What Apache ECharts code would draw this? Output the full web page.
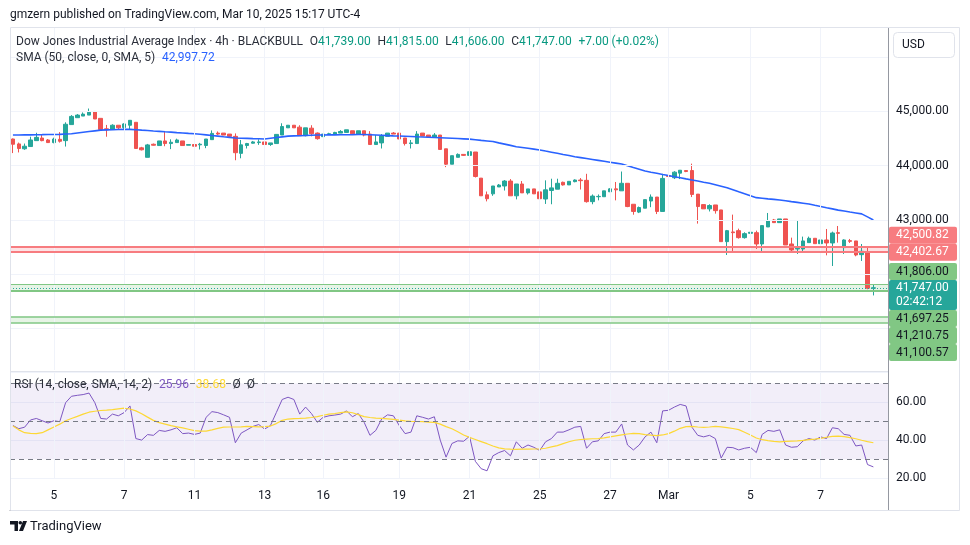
<!DOCTYPE html>
<html><head><meta charset="utf-8">
<script src="https://cdn.jsdelivr.net/npm/echarts/dist/echarts.min.js"></script>
<style>html,body{margin:0;padding:0;background:#fff;}#c{width:970px;height:545px;}</style>
</head><body><div id="c"></div>
<script>
const FONT = "Roboto, 'Noto Sans', 'Liberation Sans', sans-serif";

// ---- data ----
const SLOTS = 150; // 148 bars + 2 empty slots on the right
const categories = Array.from({length: SLOTS}, (_, i) => 'bar' + i);
const tickIdx  = [7, 19, 31, 43, 53, 66, 78, 90, 102, 112, 126, 138];
const tickText = ['5', '7', '11', '13', '16', '19', '21', '25', '27', 'Mar', '5', '7'];

// [open, close, low, high]
const ohlc = [
[44492,44395,44232,44500],[44401,44317,44244,44426],[44311,44359,44293,44408],[44353,44474,44353,44534],[44462,44522,44462,44607],
[44510,44462,44450,44577],[44474,44426,44420,44492],[44426,44492,44413,44516],[44486,44450,44426,44619],[44462,44764,44353,44800],
[44758,44909,44758,44933],[44885,44933,44885,44951],[44915,44951,44915,44982],[44933,44988,44933,45054],[45000,44861,44861,45000],
[44873,44667,44667,44873],[44680,44661,44534,44752],[44667,44746,44667,44764],[44746,44698,44667,44746],[44704,44770,44680,44782],
[44746,44837,44667,44837],[44800,44317,44317,44800],[44329,44293,44281,44347],[44154,44383,44154,44401],[44395,44377,44371,44408],
[44371,44456,44371,44456],[44456,44408,44359,44625],[44408,44432,44305,44486],[44426,44474,44426,44498],[44456,44371,44371,44456],
[44377,44389,44377,44395],[44390,44359,44347,44408],[44384,44396,44299,44420],[44372,44492,44323,44492],[44480,44595,44480,44650],
[44601,44583,44565,44631],[44601,44565,44565,44601],[44583,44541,44516,44583],[44541,44239,44100,44595],[44227,44384,44136,44474],
[44372,44408,44317,44420],[44414,44438,44408,44456],[44426,44438,44384,44486],[44438,44390,44281,44438],[44390,44420,44365,44420],
[44408,44577,44408,44577],[44565,44722,44565,44782],[44698,44746,44698,44746],[44746,44698,44698,44746],[44710,44553,44553,44746],
[44553,44698,44541,44698],[44692,44589,44541,44746],[44601,44498,44480,44613],[44535,44583,44535,44583],[44577,44589,44577,44607],
[44583,44613,44583,44625],[44601,44631,44601,44656],[44613,44662,44613,44662],[44644,44589,44589,44644],[44583,44644,44583,44644],
[44644,44565,44541,44644],[44583,44390,44390,44637],[44390,44438,44390,44565],[44420,44547,44317,44583],[44541,44601,44541,44601],
[44601,44583,44583,44619],[44601,44492,44492,44601],[44511,44408,44372,44511],[44408,44420,44317,44474],[44408,44583,44408,44637],
[44601,44547,44547,44601],[44565,44529,44529,44565],[44529,44565,44529,44601],[44565,44299,44299,44565],[44311,44027,43973,44311],
[44027,44184,44027,44184],[44154,44208,44154,44226],[44208,44190,44178,44208],[44190,44257,44190,44257],[44252,43800,43782,44252],
[43770,43444,43444,43770],[43462,43390,43341,43523],[43480,43625,43444,43625],[43607,43643,43607,43662],[43625,43716,43541,43734],
[43716,43444,43444,43752],[43444,43662,43378,43662],[43662,43498,43498,43716],[43498,43571,43468,43571],[43571,43480,43480,43571],
[43516,43390,43390,43516],[43385,43554,43294,43729],[43542,43590,43288,43759],[43566,43675,43566,43759],[43693,43645,43632,43705],
[43645,43711,43645,43711],[43705,43735,43693,43747],[43735,43723,43560,43771],[43729,43336,43318,43850],[43336,43439,43288,43469],
[43427,43433,43360,43469],[43427,43536,43427,43536],[43518,43572,43518,43584],[43572,43554,43360,43699],[43536,43675,43536,43892],
[43675,43246,43234,43675],[43288,43155,43095,43288],[43143,43228,43125,43246],[43215,43373,43215,43373],[43348,43421,43234,43469],
[43421,43155,43107,43421],[43155,43765,43155,43850],[43814,43802,43741,43868],[43777,43880,43753,43898],[43862,43916,43753,43916],
[43910,43892,43880,43910],[43910,43469,43421,44037],[43475,43246,42931,43475],[43282,43203,43203,43282],[43203,43264,43155,43288],
[43275,43170,43115,43275],[43183,42598,42598,43183],[42598,42801,42352,42814],[42777,42764,42426,43097],[42801,42672,42654,42838],
[42672,42746,42654,42771],[42752,42771,42703,42863],[42764,42555,42463,42801],[42555,42894,42414,42894],[42869,42980,42869,43127],
[42998,42949,42949,43017],[42949,43017,42949,43017],[43017,42537,42537,43017],[42555,42445,42414,42672],[42463,42475,42371,42980],
[42463,42611,42395,42691],[42580,42660,42580,42691],[42660,42561,42561,42660],[42561,42629,42561,42629],[42629,42574,42346,42832],
[42574,42758,42149,42783],[42764,42752,42580,42887],[42488,42629,42371,42641],[42617,42604,42574,42648],[42611,42352,42328,42611],
[42358,42420,42242,42555],[42408,41739,41720,42500],[41739,41747,41606,41815]
];

const sma50 = [
44565,44567,44568,44569,44571,44572,44574,44576,44578,44584,
44590,44603,44616,44629,44642,44655,44660,44664,44667,44669,
44670,44663,44655,44648,44640,44633,44625,44618,44610,44603,
44595,44588,44580,44568,44556,44545,44533,44522,44510,44506,
44503,44499,44496,44493,44506,44519,44532,44545,44549,44553,
44557,44561,44565,44566,44568,44569,44570,44571,44572,44574,
44575,44570,44565,44560,44555,44550,44546,44542,44538,44533,
44529,44525,44520,44515,44510,44505,44500,44495,44490,44479,
44467,44456,44445,44421,44398,44374,44350,44335,44320,44305,
44290,44269,44249,44228,44207,44187,44166,44149,44132,44115,
44098,44081,44064,44047,44030,43998,43965,43933,43900,43879,
43859,43838,43818,43797,43777,43756,43736,43716,43695,43675,
43648,43621,43594,43557,43520,43484,43447,43410,43399,43388,
43378,43367,43352,43337,43323,43308,43293,43270,43248,43225,
43203,43180,43163,43145,43128,43110,43055,42997.72
];

const rsi = [
47.8,46.1,46.9,50.7,51.5,50.3,49.1,50.3,49.8,59.8,
63.2,63.7,64.1,64.9,59.8,51.5,51.2,53.8,52.9,54.6,
58.1,40.9,40.1,43.0,42.6,45.2,44.7,45.5,46.6,43.5,
43.8,43.1,43.8,52.1,55.1,54.6,53.4,52.1,38.7,43.8,
45.5,47.3,48.3,45.9,47.8,54.6,61.5,62.7,61.5,53.8,
57.5,54.1,49.5,52.1,52.9,53.3,53.8,55.5,52.4,54.1,
49.5,42.6,45.2,51.2,53.4,52.9,47.8,43.5,44.3,52.9,
52.1,51.2,52.4,40.1,31.1,38.3,39.7,39.5,42.1,28.9,
25.0,23.9,31.8,33.5,34.6,31.8,39.2,35.8,37.5,36.3,
34.6,39.2,40.9,44.3,44.3,45.5,46.9,47.3,35.8,39.2,
39.7,43.5,44.3,44.3,48.6,37.5,34.9,37.5,41.8,44.3,
38.7,55.5,55.8,57.5,58.9,58.1,46.9,42.6,41.8,42.6,
40.9,30.6,36.3,36.1,34.9,35.8,36.3,33.5,43.1,45.2,
44.7,45.5,37.5,36.3,36.6,39.7,40.9,40.1,41.8,40.9,
46.6,46.1,43.1,42.6,37.0,37.5,27.2,25.96
];

const rsiSma = [
47.5,45.5,44.0,43.6,43.5,44.0,45.5,47.0,48.5,50.3,
51.5,52.6,53.8,54.8,55.3,55.7,55.9,56.2,56.6,56.9,
56.5,55.5,54.0,52.2,50.5,49.3,48.5,47.7,47.1,46.5,
45.8,45.1,44.8,44.8,45.5,46.3,46.9,47.0,47.0,47.1,
47.3,47.2,47.1,47.2,47.5,48.8,50.5,51.2,51.4,51.5,
51.7,52.0,52.5,53.2,53.8,54.1,54.6,55.0,54.5,53.5,
52.5,52.0,51.7,51.5,51.3,51.0,50.6,50.2,50.0,49.9,
49.8,49.6,49.4,48.5,47.2,46.1,44.5,42.8,41.5,40.4,
39.3,38.2,37.0,36.0,35.5,35.3,35.2,35.3,35.3,35.4,
35.4,35.8,36.5,37.2,38.2,39.2,40.0,40.4,40.6,40.8,
40.9,41.3,41.8,42.3,42.8,43.3,43.6,43.5,43.0,42.7,
42.5,42.8,43.5,44.8,46.3,47.2,47.3,47.0,46.8,47.0,
47.3,47.1,46.7,46.2,45.6,44.2,42.8,41.2,40.3,39.8,
39.4,39.2,39.4,39.6,39.7,39.9,40.3,40.6,41.0,41.6,
42.1,42.2,41.9,41.4,40.8,40.0,39.3,38.68
];

const priceGridLevels = [46000, 45000, 44000, 43000, 42000, 41000];
const priceLabelLevels = [45000, 44000, 43000];
const redLevels = [42500.82, 42402.67];
const greenLevelsUpper = [41806.00, 41697.25];
const greenLevelsLower = [41210.75, 41100.57];
const lastPrice = 41747.00;
const rsiDashed = [70, 50, 30];

// ---- colors ----
const UP = '#26a69a', DOWN = '#ef5350';
const GRID = '#f0f3fa';
const TXT = '#131722';
const fmt = v => v.toLocaleString('en-US', {minimumFractionDigits: 2, maximumFractionDigits: 2});

const chart = echarts.init(document.getElementById('c'), null, {renderer: 'canvas', width: 970, height: 545});

const G = {left: 10, right: 82};
const hideCat = (g) => ({type: 'category', gridIndex: g, data: categories, boundaryGap: true,
  axisLine: {show: false}, axisTick: {show: false}, axisLabel: {show: false}, splitLine: {show: false}});

const vGrid = tickIdx.map(i => ({xAxis: i}));

const option = {
  animation: false,
  backgroundColor: '#ffffff',
  grid: [
    {left: G.left, right: G.right, top: 28, height: 342},
    {left: G.left, right: G.right, top: 372, height: 106.2},
    {left: G.left, right: G.right, top: 482, height: 28}
  ],
  xAxis: [
    hideCat(0), hideCat(1),
    {type: 'category', gridIndex: 2, data: categories, boundaryGap: true, position: 'top',
     axisLine: {show: true, lineStyle: {color: '#9598a1', width: 1}}, axisTick: {show: false},
     splitLine: {show: false},
     axisLabel: {show: true, inside: true, margin: 8, color: TXT, fontSize: 12, fontFamily: FONT,
       interval: (i) => tickIdx.indexOf(i) >= 0,
       formatter: (v, i) => { const k = tickIdx.indexOf(i); return k >= 0 ? tickText[k] : ''; }}}
  ],
  yAxis: [
    {type: 'value', gridIndex: 0, min: 40230, max: 46540, show: false},
    {type: 'value', gridIndex: 1, min: 20, max: 76, interval: 20, position: 'right',
     axisLine: {show: false}, axisTick: {show: false},
     axisLabel: {showMaxLabel: false, align: 'left', margin: 8, color: TXT, fontSize: 12, fontFamily: FONT,
       formatter: v => v.toFixed(2)},
     splitLine: {show: true, lineStyle: {color: GRID, width: 1}}},
    {type: 'value', gridIndex: 2, show: false, min: 0, max: 1}
  ],
  series: [
    { // price pane gridlines + axis labels
      type: 'line', xAxisIndex: 0, yAxisIndex: 0, data: [], z: 1, silent: true,
      markLine: {
        silent: true, symbol: ['none', 'none'], animation: false,
        lineStyle: {color: GRID, width: 1, type: 'solid'},
        label: {show: false},
        data: vGrid.concat(priceGridLevels.map(p => ({
          yAxis: p,
          label: {show: priceLabelLevels.indexOf(p) >= 0, position: 'end', distance: 8,
                  formatter: fmt(p), color: TXT, fontSize: 12, fontFamily: FONT}
        })))
      }
    },
    { // levels
      type: 'line', xAxisIndex: 0, yAxisIndex: 0, data: [], z: 2, silent: true,
      markArea: {
        silent: true,
        data: [
          [{yAxis: redLevels[1], itemStyle: {color: 'rgba(242,54,69,0.14)'}}, {yAxis: redLevels[0]}],
          [{yAxis: greenLevelsUpper[1], itemStyle: {color: 'rgba(76,175,80,0.14)'}}, {yAxis: greenLevelsUpper[0]}],
          [{yAxis: greenLevelsLower[1], itemStyle: {color: 'rgba(76,175,80,0.14)'}}, {yAxis: greenLevelsLower[0]}]
        ]
      },
      markLine: {
        silent: true, symbol: ['none', 'none'], animation: false, label: {show: false},
        data: [
          {yAxis: redLevels[0], lineStyle: {color: '#f77c80', width: 2, type: 'solid'}},
          {yAxis: redLevels[1], lineStyle: {color: '#f77c80', width: 2, type: 'solid'}},
          {yAxis: greenLevelsUpper[0], lineStyle: {color: '#81c784', width: 1, type: 'solid'}},
          {yAxis: greenLevelsUpper[1], lineStyle: {color: '#81c784', width: 2, type: 'solid'}},
          {yAxis: greenLevelsLower[0], lineStyle: {color: '#81c784', width: 1.5, type: 'solid'}},
          {yAxis: greenLevelsLower[1], lineStyle: {color: '#81c784', width: 1.5, type: 'solid'}},
          {yAxis: lastPrice, lineStyle: {color: UP, width: 1, type: [1, 2]}}
        ]
      }
    },
    {
      name: 'DJI', type: 'candlestick', xAxisIndex: 0, yAxisIndex: 0, z: 3,
      data: ohlc, barWidth: 4,
      itemStyle: {color: UP, color0: DOWN, borderColor: UP, borderColor0: DOWN, borderWidth: 1}
    },
    {
      name: 'SMA', type: 'line', xAxisIndex: 0, yAxisIndex: 0, z: 4, data: sma50,
      showSymbol: false, symbol: 'none', smooth: false,
      lineStyle: {color: '#2962ff', width: 1.6}
    },
    { // RSI pane gridlines + band
      type: 'line', xAxisIndex: 1, yAxisIndex: 1, data: [], z: 1, silent: true,
      markArea: {silent: true, data: [[{yAxis: 30, itemStyle: {color: 'rgba(126,87,194,0.1)'}}, {yAxis: 70}]]},
      markLine: {
        silent: true, symbol: ['none', 'none'], animation: false, label: {show: false},
        data: vGrid.map(d => Object.assign({lineStyle: {color: GRID, width: 1, type: 'solid'}}, d))
          .concat(rsiDashed.map(v => ({yAxis: v, lineStyle: {color: '#787b86', width: 1, type: [5, 4]}})))
      }
    },
    {
      name: 'RSI', type: 'line', xAxisIndex: 1, yAxisIndex: 1, z: 3, data: rsi,
      showSymbol: false, symbol: 'none', lineStyle: {color: '#7e57c2', width: 1}
    },
    {
      name: 'RSI SMA', type: 'line', xAxisIndex: 1, yAxisIndex: 1, z: 3, data: rsiSma,
      showSymbol: false, symbol: 'none', lineStyle: {color: '#fdd835', width: 1.2}
    }
  ]
};
chart.setOption(option);

// ---- static graphics ----
const gfx = [];
gfx.push({type: 'rect', id: 'frame', z: 100, silent: true,
  shape: {x: 10.5, y: 27.5, width: 949, height: 483},
  style: {fill: 'none', stroke: '#e0e3eb', lineWidth: 1}});
gfx.push({type: 'line', id: 'vsep', z: 100, silent: true,
  shape: {x1: 888.5, y1: 28, x2: 888.5, y2: 510}, style: {stroke: '#9598a1', lineWidth: 1}});
gfx.push({type: 'line', id: 'psep', z: 100, silent: true,
  shape: {x1: 10, y1: 371.5, x2: 888, y2: 371.5}, style: {stroke: '#e0e3eb', lineWidth: 1}});
gfx.push({type: 'rect', id: 'usdbox', z: 100, silent: true,
  shape: {x: 893.5, y: 32.5, width: 61, height: 25, r: 4},
  style: {fill: '#fff', stroke: '#e0e3eb', lineWidth: 1}});
gfx.push({type: 'text', id: 'usd', z: 101, silent: true, x: 902, y: 45,
  style: {text: 'USD', fill: TXT, font: '12px ' + FONT, verticalAlign: 'middle'}});
gfx.push({type: 'text', id: 'pub', z: 101, silent: true, x: 10, y: 15,
  style: {text: 'gmzern published on TradingView.com, Mar 10, 2025 15:17 UTC-4', fill: TXT,
          font: '12px ' + FONT, verticalAlign: 'middle'}});
gfx.push({type: 'text', id: 'hdr1', z: 101, silent: true, x: 16, y: 42,
  style: {
    text: '{t|Dow Jones Industrial Average Index · 4h · BLACKBULL}  {t|O}{v|41,739.00}  {t|H}{v|41,815.00}  {t|L}{v|41,606.00}  {t|C}{v|41,747.00}  {v|+7.00 (+0.02%)}',
    verticalAlign: 'middle',
    rich: {t: {fill: '#2a2e39', fontSize: 12, fontFamily: FONT}, v: {fill: '#089981', fontSize: 12, fontFamily: FONT}}
  }});
gfx.push({type: 'text', id: 'hdr2', z: 101, silent: true, x: 16, y: 58,
  style: {
    text: '{t|SMA (50, close, 0, SMA, 5)}  {b|42,997.72}',
    verticalAlign: 'middle',
    rich: {t: {fill: '#2a2e39', fontSize: 12, fontFamily: FONT}, b: {fill: '#2962ff', fontSize: 12, fontFamily: FONT}}
  }});
gfx.push({type: 'text', id: 'rsihdr', z: 101, silent: true, x: 14, y: 385,
  style: {
    text: '{t|RSI (14, close, SMA, 14, 2)}  {p|25.96}  {y|38.68}  {t|Ø  Ø}',
    verticalAlign: 'middle',
    rich: {t: {fill: '#2a2e39', fontSize: 12, fontFamily: FONT}, p: {fill: '#7e57c2', fontSize: 12, fontFamily: FONT},
           y: {fill: '#fdd835', fontSize: 12, fontFamily: FONT}}
  }});
// TradingView logo
gfx.push({type: 'group', id: 'logo', z: 101, silent: true, children: [
  {type: 'rect', shape: {x: 10, y: 521, width: 8, height: 3.5}, style: {fill: TXT}},
  {type: 'rect', shape: {x: 14.5, y: 521, width: 3.5, height: 10}, style: {fill: TXT}},
  {type: 'circle', shape: {cx: 20.3, cy: 522.8, r: 1.8}, style: {fill: TXT}},
  {type: 'polygon', shape: {points: [[19, 531], [23, 521], [27, 521], [23, 531]]}, style: {fill: TXT}},
  {type: 'text', x: 30, y: 527, style: {text: 'TradingView', fill: TXT, font: '13px ' + FONT, verticalAlign: 'middle'}}
]});

// ---- price tags on the right axis, stacked to avoid overlap ----
const yOf = p => chart.convertToPixel({yAxisIndex: 0}, p);
const TAG_H = 17, TAG_X = 889, TAG_W = 68;
const yc = yOf(lastPrice);
const curTop = Math.round(yc) - 8, curBot = curTop + 30;
function tagRect(id, top, h, bg) {
  return {type: 'rect', id: id, z: 110, silent: true, shape: {x: TAG_X, y: top, width: TAG_W, height: h, r: 2}, style: {fill: bg}};
}
function tagText(id, cy, txt, color) {
  return {type: 'text', id: id, z: 111, silent: true, x: 896, y: cy,
    style: {text: txt, fill: color, font: '12px ' + FONT, verticalAlign: 'middle'}};
}
gfx.push(tagRect('tcur', curTop, 30, UP));
gfx.push(tagText('tcurv', curTop + 8, fmt(lastPrice), '#fff'));
gfx.push(tagText('tcurc', curTop + 22, '02:42:12', '#fff'));

const above = [
  {p: greenLevelsUpper[0], bg: '#81c784', fg: TXT},
  {p: redLevels[1], bg: '#f77c80', fg: '#fff'},
  {p: redLevels[0], bg: '#f77c80', fg: '#fff'}
];
let bound = curTop;
above.forEach((t, k) => {
  const c = Math.min(yOf(t.p), bound - TAG_H / 2);
  const top = c - TAG_H / 2;
  gfx.push(tagRect('ta' + k, top, TAG_H, t.bg));
  gfx.push(tagText('tat' + k, c, fmt(t.p), t.fg));
  bound = top;
});
const below = [
  {p: greenLevelsUpper[1], bg: '#81c784', fg: TXT},
  {p: greenLevelsLower[0], bg: '#81c784', fg: TXT},
  {p: greenLevelsLower[1], bg: '#81c784', fg: TXT}
];
bound = curBot;
below.forEach((t, k) => {
  const c = Math.max(yOf(t.p), bound + TAG_H / 2);
  const top = c - TAG_H / 2;
  gfx.push(tagRect('tb' + k, top, TAG_H, t.bg));
  gfx.push(tagText('tbt' + k, c, fmt(t.p), t.fg));
  bound = top + TAG_H;
});

chart.setOption({graphic: gfx});
</script>
</body></html>
